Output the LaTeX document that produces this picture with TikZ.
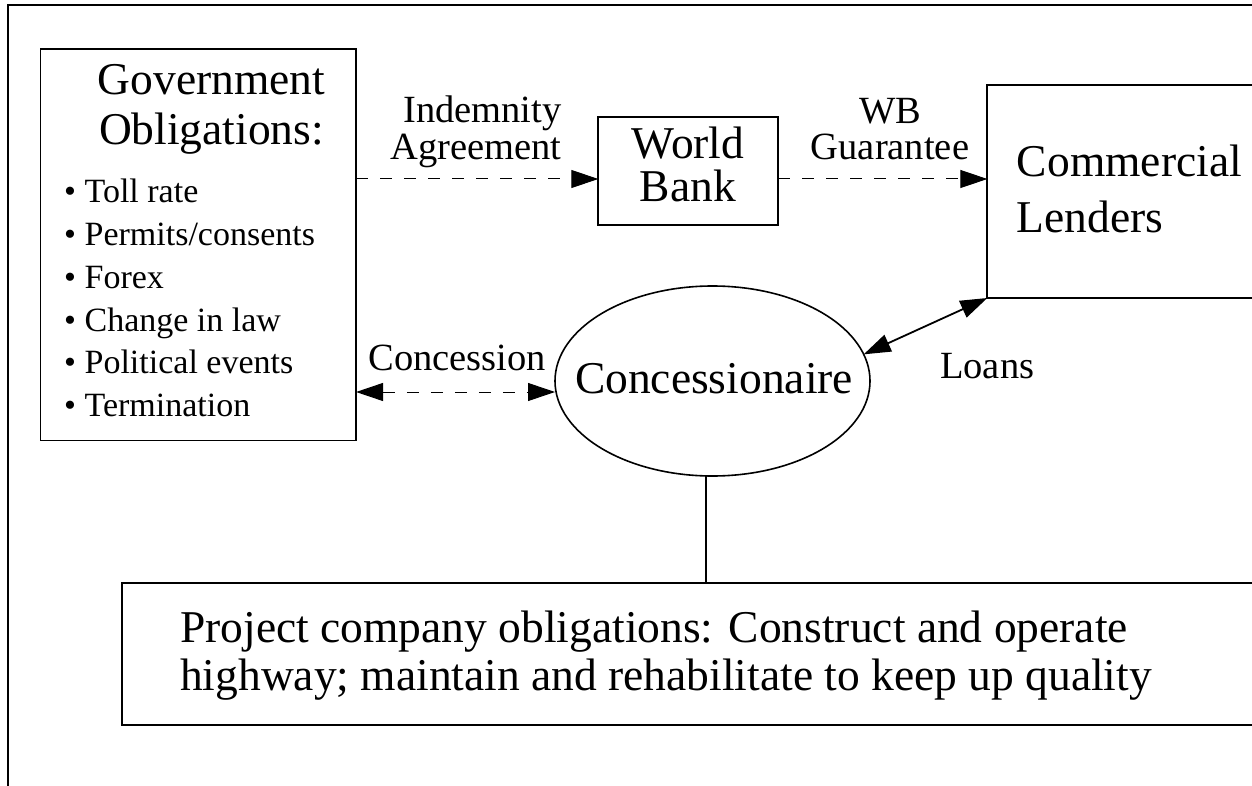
\documentclass[tikz,border=0pt]{standalone}
\usepackage{fontspec}
\setmainfont{Liberation Serif}
\usetikzlibrary{arrows.meta,shapes.geometric}
\begin{document}
\begin{tikzpicture}[x=1pt,y=-1pt,
  box/.style={draw,line width=1.8pt,rectangle,inner sep=0pt,outer sep=0pt},
  big/.style={inner sep=0pt,font=\fontsize{45.5}{50}\selectfont},
  lbl/.style={inner sep=0pt,font=\fontsize{38.5}{40}\selectfont},
  itm/.style={inner sep=0pt,font=\fontsize{34}{40}\selectfont},
  dasharrow/.style={line width=1pt,dash pattern=on 12pt off 12pt,-{Triangle[length=27pt,width=18pt]}},
  dashboth/.style={line width=1pt,dash pattern=on 12pt off 12pt,{Triangle[length=27pt,width=18pt]}-{Triangle[length=27pt,width=18pt]}},
  solidboth/.style={line width=1.8pt,{Triangle[length=27pt,width=18pt]}-{Triangle[length=27pt,width=18pt]}},
  plain/.style={line width=1.7pt}
]
\clip (0,0) rectangle (1252,786);
\fill[white] (0,0) rectangle (1252,786);
% outer frame
\draw[line width=1.8pt] (8.3,820) -- (8.3,5) -- (1300,5);

% boxes
\node[box,minimum width=315.5pt,minimum height=391.4pt] (gov) at (198.3,244.7) {};
\node[box,minimum width=180pt,minimum height=108.3pt] (wb) at (688.3,170.8) {};
\node[box,minimum width=312.7pt,minimum height=213pt] (cl) at (1143.7,191.5) {};
\node[draw,line width=1.6pt,ellipse,minimum width=315pt,minimum height=190pt,inner sep=0pt,outer sep=0pt] (con) at (712.5,381) {};
\node[box,minimum width=1178.3pt,minimum height=142pt] (proj) at (711,654) {};

% government text
\node[big,anchor=base] (gt1) at (211.5,95) {Government};
\node[big,anchor=base] (gt2) at (211.5,145) {Obligations:};
\node[itm,anchor=base west] (b1) at (64,202.7) {\textbullet\ Toll rate};
\node[itm,anchor=base west] (b2) at (64,245.5) {\textbullet\ Permits/consents};
\node[itm,anchor=base west] (b3) at (64,288.3) {\textbullet\ Forex};
\node[itm,anchor=base west] (b4) at (64,331.1) {\textbullet\ Change in law};
\node[itm,anchor=base west] (b5) at (64,373.9) {\textbullet\ Political events};
\node[itm,anchor=base west] (b6) at (64,416.7) {\textbullet\ Termination};

% world bank text
\node[big,anchor=base] (w1) at (688,158.3) {World};
\node[big,anchor=base] (w2) at (688,201.7) {Bank};

% commercial lenders text
\node[big,anchor=base west] (c1) at (1016.7,176.7) {Commercial};
\node[big,anchor=base west] (c2) at (1016.7,233) {Lenders};

% concessionaire text
\node[big,anchor=base] (ct) at (714,393.3) {Concessionaire};

% project text
\node[big,anchor=base west] (p1) at (180,642.7) {Project company obligations: Construct and operate};
\node[big,anchor=base west] (p2) at (180,690) {highway; maintain and rehabilitate to keep up quality};

% labels
\node[lbl,anchor=base east] (l1) at (561.7,122.7) {Indemnity};
\node[lbl,anchor=base east] (l2) at (561.7,159.3) {Agreement};
\node[lbl,anchor=base] (l3) at (890,123.3) {WB};
\node[lbl,anchor=base] (l4) at (890,160) {Guarantee};
\node[lbl,anchor=base west] (l5) at (368.3,370) {Concession};
\node[lbl,anchor=base west] (l6) at (940,378.3) {Loans};

% connectors
\coordinate (ia) at (0,179);
\coordinate (cc) at (0,392);
\coordinate (vl) at (706,0);
\draw[dasharrow] (gov.east |- ia) -- (wb.west |- ia);
\draw[dasharrow] (wb.east |- ia) -- (cl.west |- ia);
\draw[dashboth] (gov.east |- cc) -- (con.west |- cc);
\draw[solidboth] (con.10) -- (cl.south west);
\draw[plain] (con.south -| vl) -- (vl |- proj.north);
\end{tikzpicture}
\end{document}
